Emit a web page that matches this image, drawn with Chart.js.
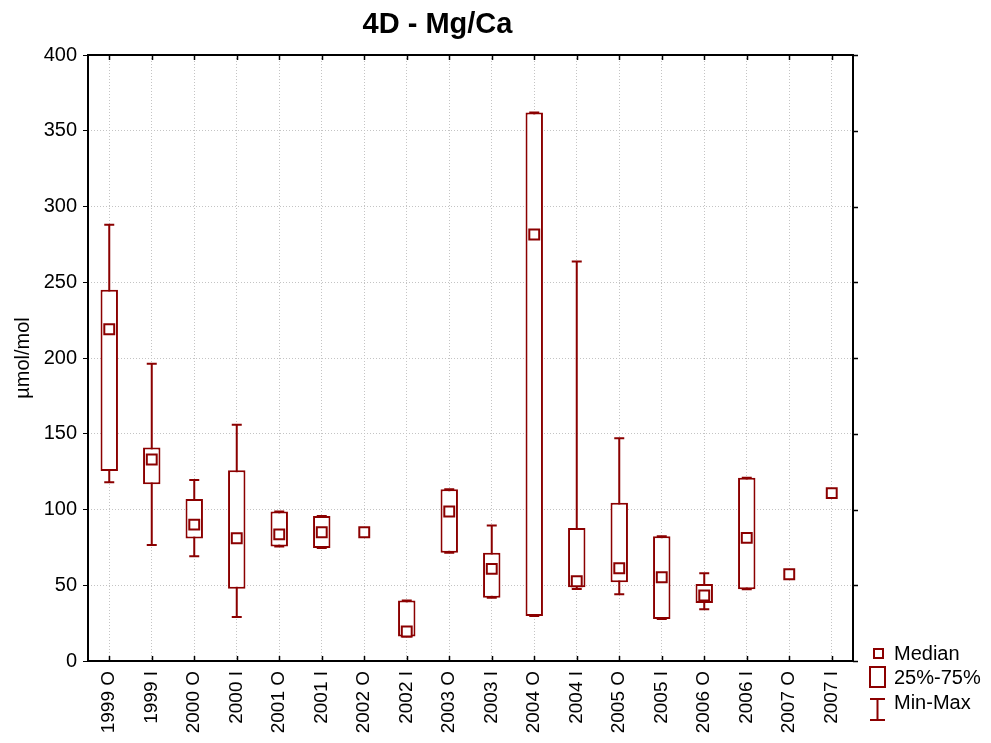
<!DOCTYPE html>
<html>
<head>
<meta charset="utf-8">
<script src="https://cdn.jsdelivr.net/npm/chart.js@4"></script>
<style>
  html, body { margin:0; padding:0; background:#fff; }
  #wrap { position:relative; width:991px; height:743px; }
</style>
</head>
<body>
<div id="wrap"><canvas id="c" width="991" height="743"></canvas></div>
<script>
// ═══ DATA ═══
const categories = ['1999 O','1999 I','2000 O','2000 I','2001 O','2001 I','2002 O','2002 I','2003 O','2003 I','2004 O','2004 I','2005 O','2005 I','2006 O','2006 I','2007 O','2007 I'];
const medians = [219, 133, 90, 81, 83.6, 85, 85, 19.5, 98.7, 60.8, 281.5, 52.6, 61.2, 55.3, 43.2, 81.3, 57.3, 110.8];
const q1s     = [125.4, 116.6, 80.8, 47.7, 75.5, 74.6, null, 16.2, 71.4, 41.7, 29.7, 48.7, 52, 27.8, 38.3, 47.4, null, null];
const q3s     = [245, 141, 107, 125.9, 98.6, 95.7, null, 40, 113.4, 71.4, 362, 87.8, 104.4, 82.4, 50.9, 120.9, null, null];
const mins    = [118, 76.6, 69.1, 29, 75.5, 74.6, null, 16.2, 71.4, 41.7, 29.7, 47.5, 44, 27.8, 34.1, 47.4, null, null];
const maxs    = [288, 196.2, 119.5, 156, 98.6, 95.7, null, 40, 113.4, 89.5, 362, 263.7, 147.1, 82.4, 57.9, 120.9, null, null];
const yTicks  = [0, 50, 100, 150, 200, 250, 300, 350, 400];

const RED = '#8b0000';
const FONT = '"Liberation Sans", Arial, sans-serif';
const GRID = '#c4c4c4';

// whiskers drawn behind the boxes
const whiskerPlugin = {
    id: 'whiskers',
    beforeDatasetsDraw(chart) {
        const { ctx, scales: { x, y } } = chart;
        ctx.save();
        ctx.strokeStyle = RED; ctx.lineWidth = 2;
        mins.forEach((mn, i) => {
            if (mn == null) return;
            const px = x.getPixelForValue(i), y1 = y.getPixelForValue(mn), y2 = y.getPixelForValue(maxs[i]);
            ctx.beginPath();
            ctx.moveTo(px, y1); ctx.lineTo(px, y2);
            ctx.moveTo(px - 5, y1); ctx.lineTo(px + 5, y1);
            ctx.moveTo(px - 5, y2); ctx.lineTo(px + 5, y2);
            ctx.stroke();
        });
        ctx.restore();
    }
};

// frame, inward x ticks, outward right y ticks, title, legend
const decoPlugin = {
    id: 'deco',
    afterDraw(chart) {
        const { ctx, chartArea: a, scales: { x, y } } = chart;
        ctx.save();
        ctx.strokeStyle = '#000'; ctx.lineWidth = 2;
        ctx.strokeRect(a.left, a.top, a.right - a.left, a.bottom - a.top);
        ctx.lineWidth = 1.5;
        ctx.beginPath();
        categories.forEach((c, i) => {
            const px = Math.round(x.getPixelForValue(i)) + 0.5;
            ctx.moveTo(px, a.bottom); ctx.lineTo(px, a.bottom - 5);
            ctx.moveTo(px, a.top); ctx.lineTo(px, a.top + 5);
        });
        yTicks.forEach(v => {
            const py = Math.round(y.getPixelForValue(v)) + 0.5;
            ctx.moveTo(a.right, py); ctx.lineTo(a.right + 5, py);
        });
        ctx.stroke();

        // title
        ctx.fillStyle = '#000';
        ctx.font = 'bold 29px ' + FONT;
        ctx.textAlign = 'center'; ctx.textBaseline = 'alphabetic';
        ctx.fillText('4D - Mg/Ca', 437.5, 33);

        // legend
        ctx.strokeStyle = RED; ctx.lineWidth = 2; ctx.fillStyle = '#fff';
        ctx.fillRect(874, 649, 9, 9); ctx.strokeRect(874, 649, 9, 9);
        ctx.strokeRect(870, 667, 15, 20);
        ctx.beginPath();
        ctx.moveTo(877.5, 699); ctx.lineTo(877.5, 720);
        ctx.moveTo(870, 699); ctx.lineTo(885, 699);
        ctx.moveTo(870, 720); ctx.lineTo(885, 720);
        ctx.stroke();
        ctx.fillStyle = '#000';
        ctx.font = '20px ' + FONT;
        ctx.textAlign = 'left'; ctx.textBaseline = 'middle';
        ctx.fillText('Median', 894, 654);
        ctx.fillText('25%-75%', 894, 678);
        ctx.fillText('Min-Max', 894, 703);
        ctx.restore();
    }
};

new Chart(document.getElementById('c'), {
    type: 'bar',
    data: {
        labels: categories,
        datasets: [
            {
                type: 'line', label: 'Median', data: medians, showLine: false, order: 0,
                pointStyle: 'rect', pointRadius: 7, pointHoverRadius: 7,
                pointBackgroundColor: '#fff', pointBorderColor: RED, pointBorderWidth: 2
            },
            {
                label: '25%-75%', order: 1,
                data: q1s.map((v, i) => v == null ? null : [v, q3s[i]]),
                backgroundColor: '#fff', borderColor: RED, borderWidth: 2, borderSkipped: false,
                barPercentage: 0.41, categoryPercentage: 1
            }
        ]
    },
    options: {
        responsive: false, animation: false,
        layout: { padding: { top: 55, right: 138, left: 0, bottom: 0 } },
        plugins: { legend: { display: false }, tooltip: { enabled: false } },
        scales: {
            x: {
                offset: true,
                grid: { offset: false, color: GRID, borderDash: [1, 2], drawTicks: false, lineWidth: 1 },
                border: { display: false, dash: [1, 2] },
                ticks: { autoSkip: false, minRotation: 90, maxRotation: 90, padding: 10, color: '#000', font: { family: FONT, size: 19 } },
                afterFit(s) { s.height = 82; }
            },
            y: {
                min: 0, max: 400,
                afterBuildTicks(s) { s.ticks = yTicks.map(v => ({ value: v })); },
                grid: { color: GRID, tickColor: '#000', tickLength: 5, lineWidth: 1 },
                border: { display: false, dash: [1, 2] },
                ticks: { padding: 6, color: '#000', font: { family: FONT, size: 20 } },
                title: { display: true, text: 'µmol/mol', color: '#000', font: { family: FONT, size: 20 }, padding: { top: 11, bottom: 0 } },
                afterFit(s) { s.width = 88; }
            }
        }
    },
    plugins: [whiskerPlugin, decoPlugin]
});
</script>
</body>
</html>
